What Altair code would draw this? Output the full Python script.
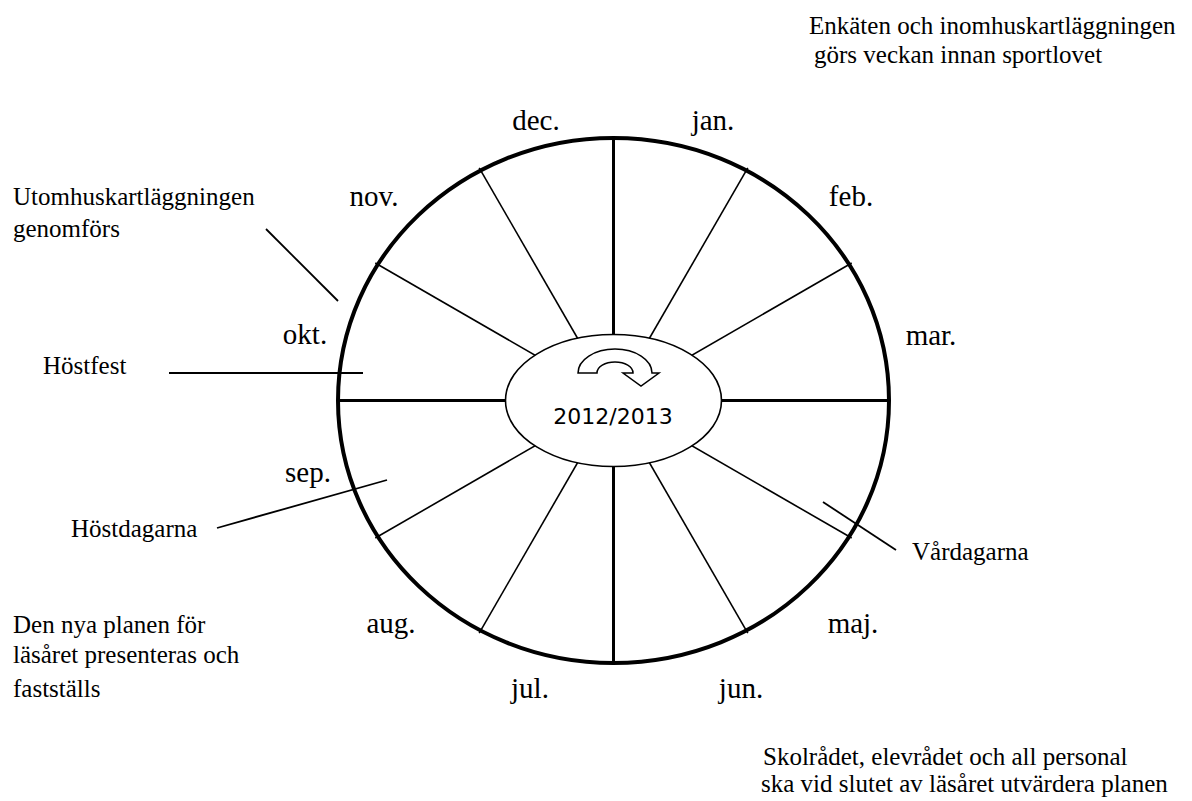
import math
import altair as alt
import pandas as pd

# ---------------- data ----------------
months = ["jan.", "feb.", "mar.", "maj.", "jun.", "jul.", "aug.", "sep.", "okt.", "nov.", "dec."]
month_x = [713, 851, 931, 853, 741, 530, 391, 308, 305, 374, 536]
month_y = [130, 206, 345, 633, 698, 698, 633, 482, 344, 206, 130]

notes = [
    "Enkäten och inomhuskartläggningen",
    "görs veckan innan sportlovet",
    "Utomhuskartläggningen",
    "genomförs",
    "Höstfest",
    "Höstdagarna",
    "Den nya planen för",
    "läsåret presenteras och",
    "fastställs",
    "Vårdagarna",
    "Skolrådet, elevrådet och all personal",
    "ska vid slutet av läsåret utvärdera planen",
]
note_x = [809, 814, 13, 13, 43, 71, 13, 13, 13, 912, 763, 761]
note_y = [34, 63, 205, 237, 374, 537, 633, 663, 697, 560, 765, 792]

lead_x1 = [266, 169, 217, 823]
lead_y1 = [229, 373, 528, 502]
lead_x2 = [338, 363, 387, 896]
lead_y2 = [301, 373, 480, 550]

spoke_angles = [0, 30, 60, 90, 120, 150, 180, 210, 240, 270, 300, 330]

center_label = ["2012/2013"]

# ---------------- geometry / layout ----------------
CX, CY = 613.5, 400.5
RX, RY = 275.5, 262.5          # outer wheel
IRX, IRY = 108.0, 66.0          # inner ellipse
ARROW_X, ARROW_Y, ARROW_S = 615.0, 373.0, 40.0

W, H = 1176, 790
xs = alt.Scale(domain=[8, 8 + W], nice=False, zero=False)
ys = alt.Scale(domain=[8, 8 + H], nice=False, zero=False, reverse=True)


def ell_r(theta):
    s, c = math.sin(theta), math.cos(theta)
    return 1.0 / math.sqrt((s / RX) ** 2 + (c / RY) ** 2)


rows = []
for a in spoke_angles:
    t = math.radians(a)
    thick = a % 90 == 0
    r = ell_r(t) + (0 if thick else 3)
    rows.append(dict(x1=CX, y1=CY,
                     x2=CX + r * math.sin(t), y2=CY - r * math.cos(t),
                     thick=thick))
spokes = pd.DataFrame(rows)


def ellipse_path(b):
    k = 0.5523
    f = lambda v: f"{v:.4f}"
    return (f"M 1 0 C 1 {f(k*b)} {f(k)} {f(b)} 0 {f(b)} "
            f"C {f(-k)} {f(b)} -1 {f(k*b)} -1 0 "
            f"C -1 {f(-k*b)} {f(-k)} {f(-b)} 0 {f(-b)} "
            f"C {f(k)} {f(-b)} 1 {f(-k*b)} 1 0 Z")


def arrow_path():
    k = 0.5523
    s = ARROW_S
    pts = [
        ("M", [(-37, 0)]),
        ("C", [(-37, -k * 24), (-k * 37, -24), (0, -24)]),
        ("C", [(k * 37, -24), (37, -k * 24), (37, 0)]),
        ("L", [(44, 0)]), ("L", [(26, 13)]), ("L", [(8, 0)]), ("L", [(18, 0)]),
        ("C", [(18, -k * 11), (k * 18, -11), (0, -11)]),
        ("C", [(-k * 18, -11), (-18, -k * 11), (-18, 0)]),
    ]
    out = []
    for cmd, ps in pts:
        out.append(cmd + " " + " ".join(f"{x/s:.4f} {y/s:.4f}" for x, y in ps))
    return " ".join(out) + " Z"


center_df = pd.DataFrame({"x": [CX], "y": [CY]})
arrow_df = pd.DataFrame({"x": [ARROW_X], "y": [ARROW_Y]})

# ---------------- layers ----------------
thin = alt.Chart(spokes[~spokes.thick]).mark_rule(color="black", strokeWidth=1.6).encode(
    x=alt.X("x1:Q", scale=xs, axis=None), y=alt.Y("y1:Q", scale=ys, axis=None),
    x2="x2:Q", y2="y2:Q")
thick = alt.Chart(spokes[spokes.thick]).mark_rule(color="black", strokeWidth=3).encode(
    x=alt.X("x1:Q", scale=xs, axis=None), y=alt.Y("y1:Q", scale=ys, axis=None),
    x2="x2:Q", y2="y2:Q")

outer = alt.Chart(center_df).mark_point(
    shape=ellipse_path(RY / RX), size=(2 * RX) ** 2, filled=False,
    stroke="black", strokeWidth=4, opacity=1, strokeOpacity=1
).encode(x=alt.X("x:Q", scale=xs, axis=None), y=alt.Y("y:Q", scale=ys, axis=None))

inner = alt.Chart(center_df).mark_point(
    shape=ellipse_path(IRY / IRX), size=(2 * IRX) ** 2, filled=True,
    fill="white", stroke="black", strokeWidth=1.6, opacity=1, fillOpacity=1, strokeOpacity=1
).encode(x=alt.X("x:Q", scale=xs, axis=None), y=alt.Y("y:Q", scale=ys, axis=None))

arrow = alt.Chart(arrow_df).mark_point(
    shape=arrow_path(), size=(2 * ARROW_S) ** 2, filled=True,
    fill="white", stroke="black", strokeWidth=1.5, opacity=1, fillOpacity=1, strokeOpacity=1
).encode(x=alt.X("x:Q", scale=xs, axis=None), y=alt.Y("y:Q", scale=ys, axis=None))

year_df = pd.DataFrame({"t": center_label, "x": [613], "y": [424]})
year = alt.Chart(year_df).mark_text(
    font="DejaVu Sans", fontSize=22, align="center", baseline="alphabetic", color="black"
).encode(x=alt.X("x:Q", scale=xs, axis=None), y=alt.Y("y:Q", scale=ys, axis=None), text="t:N")

month_df = pd.DataFrame({"m": months, "x": month_x, "y": month_y})
month_text = alt.Chart(month_df).mark_text(
    font="Liberation Serif", fontSize=29, align="center", baseline="alphabetic", color="black"
).encode(x=alt.X("x:Q", scale=xs, axis=None), y=alt.Y("y:Q", scale=ys, axis=None), text="m:N")

note_df = pd.DataFrame({"t": notes, "x": note_x, "y": note_y})
note_text = alt.Chart(note_df).mark_text(
    font="Liberation Serif", fontSize=25, align="left", baseline="alphabetic", color="black"
).encode(x=alt.X("x:Q", scale=xs, axis=None), y=alt.Y("y:Q", scale=ys, axis=None), text="t:N")

lead_df = pd.DataFrame({"x1": lead_x1, "y1": lead_y1, "x2": lead_x2, "y2": lead_y2})
leads = alt.Chart(lead_df).mark_rule(color="black", strokeWidth=1.8).encode(
    x=alt.X("x1:Q", scale=xs, axis=None), y=alt.Y("y1:Q", scale=ys, axis=None),
    x2="x2:Q", y2="y2:Q")

chart = alt.layer(
    thin, thick, outer, inner, arrow, year, month_text, note_text, leads
).properties(
    width=W, height=H, padding=0,
    autosize=alt.AutoSizeParams(type="none"),
    background="white",
).configure_view(stroke=None)

chart.save("out.html", embed_options={"renderer": "svg", "actions": False})
